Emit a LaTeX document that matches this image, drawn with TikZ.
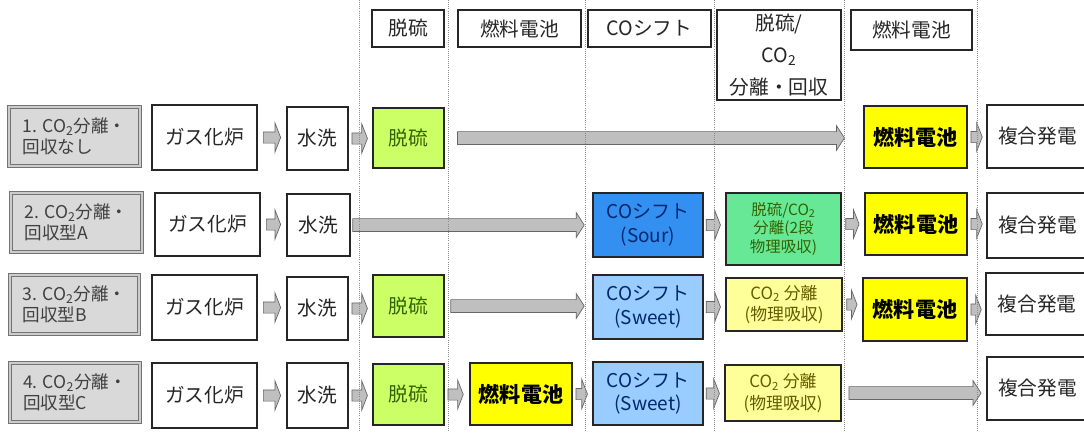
\documentclass[tikz,border=0pt]{standalone}
\usepackage{fontspec}
\setmainfont{Noto Sans CJK JP}
\usetikzlibrary{calc}
\definecolor{sulfgreen}{RGB}{204,255,102}
\definecolor{sulftext}{RGB}{51,100,0}
\definecolor{fcyellow}{RGB}{255,255,0}
\definecolor{sourblue}{RGB}{51,143,240}
\definecolor{sweetblue}{RGB}{153,204,255}
\definecolor{shifttext}{RGB}{0,40,110}
\definecolor{mintgreen}{RGB}{102,232,150}
\definecolor{paleyellow}{RGB}{255,255,153}
\definecolor{olivetext}{RGB}{100,92,0}
\definecolor{casegray}{RGB}{217,217,217}

\begin{document}
\begin{tikzpicture}[x=0.25mm,y=-0.25mm,
  boxsize/.style 2 args={minimum width=#1*0.25mm,minimum height=#2*0.25mm},
  box/.style={draw=black!85,line width=1.1pt,fill=white,inner sep=0pt,align=center,text=black!85,
    font=\fontsize{14}{17}\selectfont},
  casebox/.style={box,fill=casegray,draw=black!55,line width=0.7pt,double=black!20,double distance=0.8pt,
    text=black!75,align=left,font=\fontsize{12.5}{15}\selectfont},
  sulfbox/.style={box,fill=sulfgreen,text=sulftext},
  fcbox/.style={box,fill=fcyellow,text=black,font=\fontsize{15}{17}\selectfont\bfseries},
  sourbox/.style={box,fill=sourblue,text=shifttext,font=\fontsize{13.5}{16.5}\selectfont},
  sweetbox/.style={box,fill=sweetblue,text=shifttext,font=\fontsize{13.5}{16.5}\selectfont},
  twostagebox/.style={box,fill=mintgreen,text=sulftext,font=\fontsize{11}{13.5}\selectfont},
  physbox/.style={box,fill=paleyellow,text=olivetext,font=\fontsize{12}{15.5}\selectfont},
  arrowlook/.style={draw=black!60,fill=black!25,line width=0.5pt},
  blockarr/.style n args={3}{arrowlook,
    to path={let \p1=(\tikztostart),\p2=(\tikztotarget) in
      (\x1,\y1-#1) -- (\x2-#3,\y1-#1) -- (\x2-#3,\y1-#2) -- (\x2,\y1)
      -- (\x2-#3,\y1+#2) -- (\x2-#3,\y1+#1) -- (\x1,\y1+#1) -- cycle}},
  smallarr/.style={blockarr={1.4mm}{3.6mm}{1.4mm}},
  longarr/.style={blockarr={1.6mm}{3.1mm}{2mm}},
  sepline/.style={draw=black!45,densely dotted,line width=0.5pt}]
  \useasboundingbox (0,0) rectangle (1084,432);
  \clip (0,0) rectangle (1084,432);
  \fill[white] (0,0) rectangle (1084,432);

  \node[box,boxsize={72}{37}] (hdsulf) at (408,28.5) {脱硫};
  \node[box,boxsize={123}{37}] (hdfcA) at (519.5,28.5) {燃料電池};
  \node[box,boxsize={123}{37}] (hdshift) at (649.5,28.5) {COシフト};
  \node[box,boxsize={124}{90},font=\fontsize{14}{23}\selectfont] (hdsep) at (779,55) {脱硫/\\CO\textsubscript{2}\\分離・回収};
  \node[box,boxsize={121}{40}] (hdfcB) at (911.5,30) {燃料電池};

  \node[casebox,boxsize={131}{59}] (case1) at (74.5,136.5) {1. CO\textsubscript{2}分離・\\回収なし};
  \node[box,boxsize={105}{65}] (gas1) at (204.5,137.5) {ガス化炉};
  \node[box,boxsize={61}{63}] (wash1) at (317.5,138.5) {水洗};
  \node[sulfbox,boxsize={71}{60}] (desulf1) at (408.5,138) {脱硫};
  \node[fcbox,boxsize={103}{62}] (fc1) at (915.5,137) {燃料電池};
  \node[box,boxsize={101}{63}] (igcc1) at (1037.5,136.5) {複合発電};

  \node[casebox,boxsize={131}{59}] (case2) at (76.5,222.5) {2. CO\textsubscript{2}分離・\\回収型A};
  \node[box,boxsize={105}{63}] (gas2) at (207.5,224.5) {ガス化炉};
  \node[box,boxsize={63}{62}] (wash2) at (318.5,225) {水洗};
  \node[sourbox,boxsize={110}{64}] (shift2) at (648,225) {COシフト\\(Sour)};
  \node[twostagebox,boxsize={115}{72}] (sep2) at (783.5,229) {脱硫/CO\textsubscript{2}\\分離(2段\\物理吸収)};
  \node[fcbox,boxsize={102}{62}] (fc2) at (916,224) {燃料電池};
  \node[box,boxsize={101}{65}] (igcc2) at (1037.5,225.5) {複合発電};

  \node[casebox,boxsize={129}{59}] (case3) at (74.5,304.5) {3. CO\textsubscript{2}分離・\\回収型B};
  \node[box,boxsize={105}{65}] (gas3) at (204.5,307.5) {ガス化炉};
  \node[box,boxsize={61}{63}] (wash3) at (317.5,308.5) {水洗};
  \node[sulfbox,boxsize={71}{62}] (desulf3) at (408.5,306) {脱硫};
  \node[sweetbox,boxsize={110}{64}] (shift3) at (648,307) {COシフト\\(Sweet)};
  \node[physbox,boxsize={116}{53}] (sep3) at (784,304.5) {CO\textsubscript{2} 分離\\(物理吸収)};
  \node[fcbox,boxsize={104}{63}] (fc3) at (915,309.5) {燃料電池};
  \node[box,boxsize={102}{62}] (igcc3) at (1037,304) {複合発電};

  \node[casebox,boxsize={130}{59}] (case4) at (75,392.5) {4. CO\textsubscript{2}分離・\\回収型C};
  \node[box,boxsize={105}{65}] (gas4) at (204.5,395.5) {ガス化炉};
  \node[box,boxsize={61}{65}] (wash4) at (317.5,395.5) {水洗};
  \node[sulfbox,boxsize={71}{61}] (desulf4) at (408.5,394.5) {脱硫};
  \node[fcbox,boxsize={102}{62}] (fc4) at (521,394) {燃料電池};
  \node[sweetbox,boxsize={110}{63}] (shift4) at (648,393.5) {COシフト\\(Sweet)};
  \node[physbox,boxsize={116}{56}] (sep4) at (783,393) {CO\textsubscript{2} 分離\\(物理吸収)};
  \node[box,boxsize={101}{63}] (igcc4) at (1037.5,388.5) {複合発電};

  \foreach \r in {1,2,3,4}
    \draw[smallarr] ([xshift=1.4mm]gas\r.east) to ([xshift=-1.4mm]wash\r.west);
  \foreach \r in {1,3,4}
    \draw[smallarr] ([xshift=0.8mm]wash\r.east) to ([xshift=-1.2mm]desulf\r.west);
  \draw[longarr] ([xshift=3.2mm]desulf1.east) to ([xshift=-4.7mm]fc1.west);
  \draw[smallarr] ([xshift=0.8mm]fc1.east) to ([xshift=-1mm]igcc1.west);

  \draw[longarr] ([xshift=0.5mm]wash2.east) to ([xshift=-2mm]shift2.west);
  \draw[smallarr] ([xshift=0.6mm]shift2.east) to ([xshift=-1.2mm]sep2.west);
  \draw[smallarr] ([xshift=1mm]sep2.east |- fc2.west) to ([xshift=-1.3mm]fc2.west);
  \draw[smallarr] ([xshift=0.8mm]fc2.east) to ([xshift=-1mm]igcc2.west);

  \draw[longarr] ([xshift=1.5mm]desulf3.east) to ([xshift=-2mm]shift3.west);
  \draw[smallarr] ([xshift=0.6mm]shift3.east) to ([xshift=-1.2mm]sep3.west);
  \draw[smallarr] ([xshift=1mm]sep3.east) to ([xshift=-1.3mm]fc3.west);
  \draw[smallarr] ([xshift=0.8mm]fc3.east) to ([xshift=-1mm]igcc3.west);

  \draw[smallarr] ([xshift=0.8mm]desulf4.east) to ([xshift=-1.5mm]fc4.west);
  \draw[smallarr] ([xshift=0.8mm]fc4.east) to ([xshift=-1.2mm]shift4.west);
  \draw[smallarr] ([xshift=0.6mm]shift4.east) to ([xshift=-1.2mm]sep4.west);
  \draw[longarr] ([xshift=1.8mm]sep4.east) to ([xshift=-1.3mm]igcc4.west);

  \foreach \x in {359,448,585,714,844,977}
    \draw[sepline] (\x,0) -- (\x,432);
\end{tikzpicture}
\end{document}
